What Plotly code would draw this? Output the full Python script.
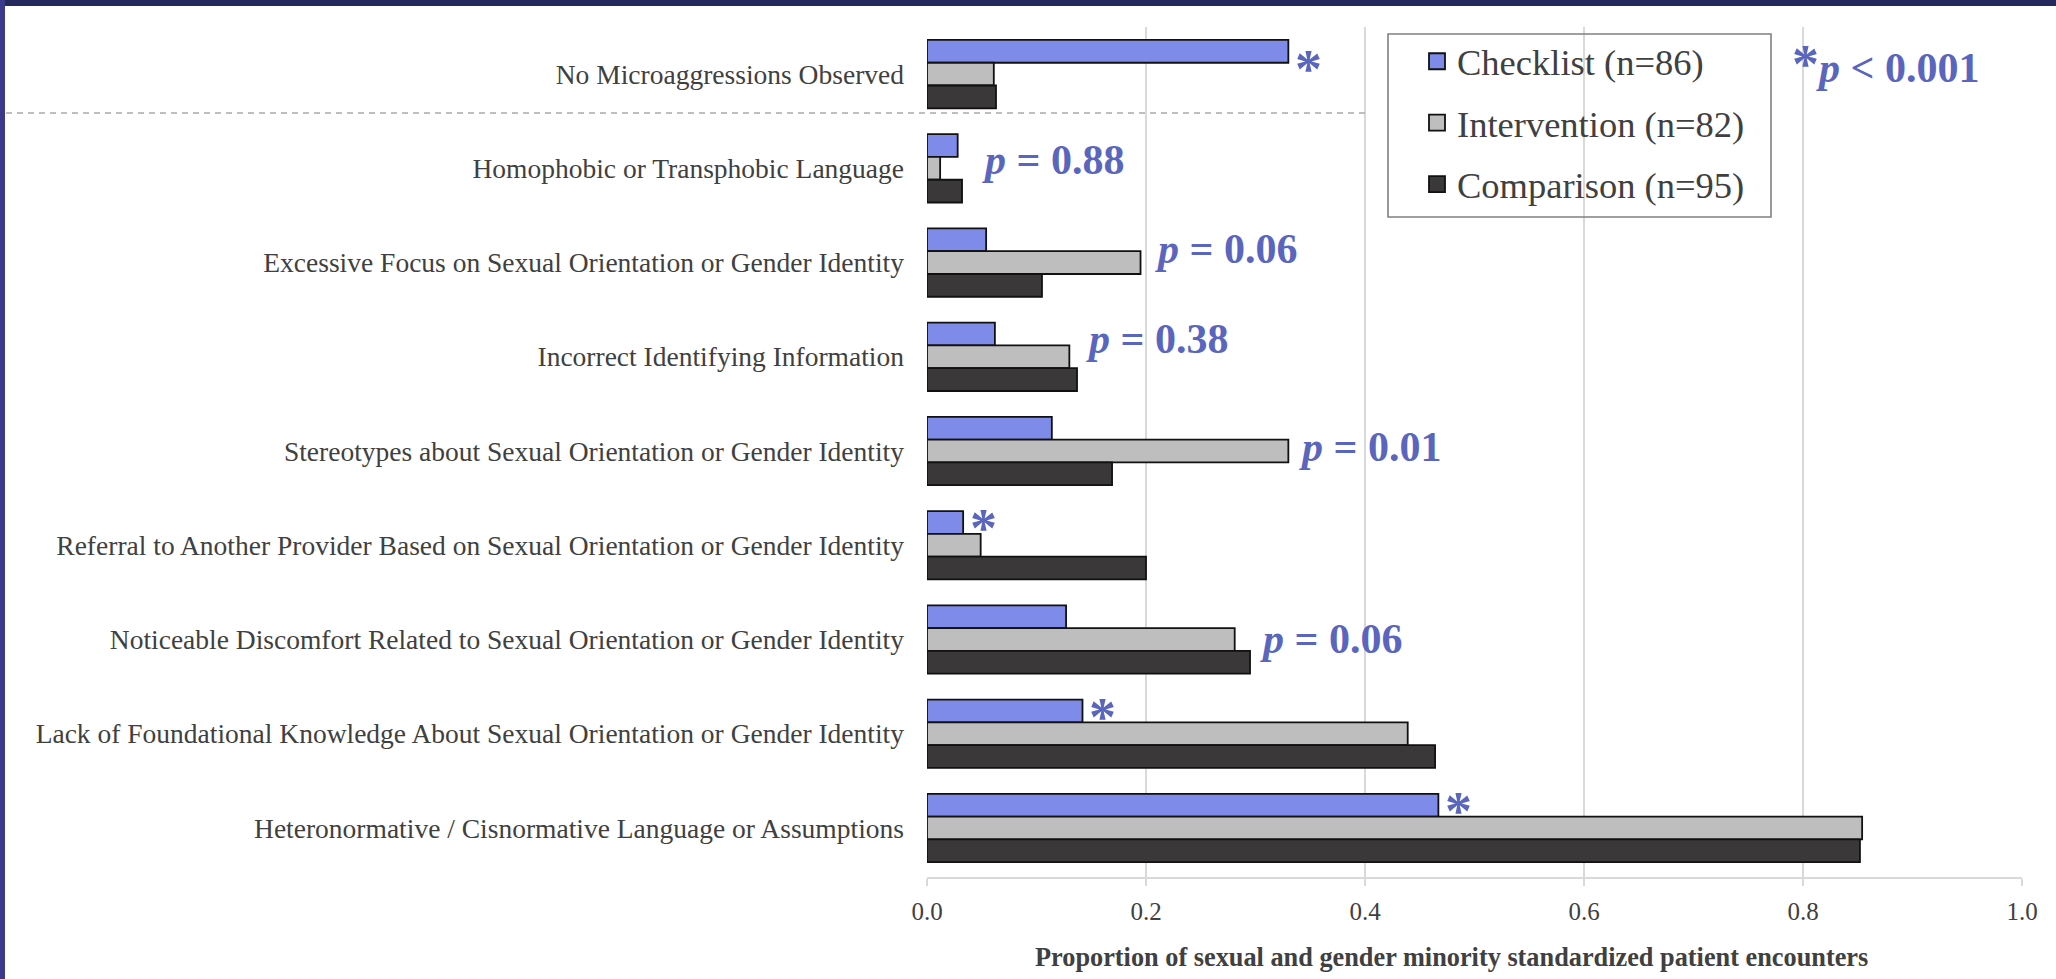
import plotly.graph_objects as go

# ---------------- data ----------------
categories = [
    "No Microaggressions Observed",
    "Homophobic or Transphobic Language",
    "Excessive Focus on Sexual Orientation or Gender Identity",
    "Incorrect Identifying Information",
    "Stereotypes about Sexual Orientation or Gender Identity",
    "Referral to Another Provider Based on Sexual Orientation or Gender Identity",
    "Noticeable Discomfort Related to Sexual Orientation or Gender Identity",
    "Lack of Foundational Knowledge About Sexual Orientation or Gender Identity",
    "Heteronormative / Cisnormative Language or Assumptions",
]
series_names = ["Checklist (n=86)", "Intervention (n=82)", "Comparison (n=95)"]
checklist = [0.330, 0.028, 0.054, 0.062, 0.114, 0.033, 0.127, 0.142, 0.467]
intervention = [0.061, 0.012, 0.195, 0.130, 0.330, 0.049, 0.281, 0.439, 0.854]
comparison = [0.063, 0.032, 0.105, 0.137, 0.169, 0.200, 0.295, 0.464, 0.852]
p_values = [None, "0.88", "0.06", "0.38", "0.01", None, "0.06", None, None]
significant = [True, False, False, False, False, True, False, True, True]
sig_note = "p < 0.001"
x_ticks = [0.0, 0.2, 0.4, 0.6, 0.8, 1.0]
x_title = "Proportion of sexual and gender minority standardized patient encounters"

# ---------------- style ----------------
W, H = 2056, 979
L, R, T, B = 927, 34, 27, 102
PW, PH = W - L - R, H - T - B
FONT = "Liberation Serif, Times New Roman, Times, serif"
TXT = "#404040"
ACC = "#5A66BE"
colors = ["#7F8BE8", "#BEBEBE", "#3A3839"]
GRID = "#D9D9D9"
STAR = "<span style='font-size:54px'>*</span>"

def px_x(px):
    return (px - L) / PW

def px_y(py):
    return (H - B - py) / PH

fig = go.Figure()
for name, vals, col in zip(series_names, [checklist, intervention, comparison], colors):
    fig.add_trace(go.Bar(
        y=categories, x=vals, orientation="h", name=name,
        marker=dict(color=col, line=dict(color="#111111", width=1.8)),
        showlegend=False, hoverinfo="x+y",
    ))
# legend entries
for name, col in zip(series_names, colors):
    fig.add_trace(go.Scatter(
        x=[None], y=[None], mode="markers", name=name, legendgroup=name,
        marker=dict(symbol="square", size=16, color=col, line=dict(color="#111111", width=1.8)),
    ))

annotations = []
# p-value labels
p_xshift = {1: 18, 2: 12, 3: 7, 4: 9, 6: 8}
p_yshift = {1: 8, 2: 14, 3: 18, 4: 4, 6: 1}
for i, pv in enumerate(p_values):
    if pv is None:
        continue
    mx = max(checklist[i], intervention[i], comparison[i])
    annotations.append(dict(
        x=mx, y=categories[i], xref="x", yref="y", xanchor="left", yanchor="middle",
        xshift=p_xshift[i], yshift=p_yshift[i], showarrow=False,
        text=f"<b><i>p</i> = {pv}</b>", font=dict(family=FONT, size=42, color=ACC),
    ))
# significance stars
for i, s in enumerate(significant):
    if not s:
        continue
    annotations.append(dict(
        x=checklist[i], y=categories[i], xref="x", yref="y", xanchor="left", yanchor="middle",
        xshift=5, yshift=5 if i == 0 else 17, showarrow=False,
        text=f"<b>{STAR}</b>", font=dict(family=FONT, size=54, color=ACC),
    ))
annotations.append(dict(
    x=px_x(1790), y=px_y(64), xref="paper", yref="paper", xanchor="left", yanchor="middle",
    showarrow=False, text=f"<b>{STAR}<i>p</i>{sig_note[1:]}</b>",
    font=dict(family=FONT, size=42, color=ACC),
))
annotations.append(dict(
    x=px_x(1451), y=px_y(958), xref="paper", yref="paper", xanchor="center", yanchor="middle",
    showarrow=False, text=f"<b>{x_title}</b>", font=dict(family=FONT, size=26.3, color=TXT),
))

shapes = [
    # separator dashed line between first and remaining categories
    dict(type="line", xref="paper", yref="paper", x0=px_x(6), x1=px_x(1365),
         y0=px_y(113), y1=px_y(113),
         line=dict(color="#AAAAAA", width=1.6, dash="6px,5px")),
    # legend box
    dict(type="rect", xref="paper", yref="paper", x0=px_x(1388), x1=px_x(1771),
         y0=px_y(34), y1=px_y(217), line=dict(color="#808080", width=1.6),
         fillcolor="rgba(0,0,0,0)"),
    # slide frame: top band and left band
    dict(type="rect", xref="paper", yref="paper", x0=px_x(0), x1=px_x(W), y0=px_y(0), y1=px_y(6),
         line=dict(width=0), fillcolor="#25285A", layer="above"),
    dict(type="rect", xref="paper", yref="paper", x0=px_x(0), x1=px_x(5), y0=px_y(0), y1=px_y(H),
         line=dict(width=0), fillcolor="#3B3A8A", layer="above"),
]

fig.update_layout(
    width=W, height=H,
    margin=dict(l=L, r=R, t=T, b=B),
    paper_bgcolor="white", plot_bgcolor="white",
    barmode="group", bargap=0.275, bargroupgap=0,
    font=dict(family=FONT, color=TXT),
    showlegend=True,
    legend=dict(
        x=px_x(1417), y=px_y(31), xanchor="left", yanchor="top",
        bgcolor="rgba(0,0,0,0)", borderwidth=0, tracegroupgap=11,
        font=dict(family=FONT, size=36.5, color=TXT), traceorder="grouped",
    ),
    xaxis=dict(
        range=[0, 1], tickvals=x_ticks, ticktext=[f"{v:.1f}" for v in x_ticks],
        showgrid=True, gridcolor=GRID, gridwidth=1.5, zeroline=False,
        showline=True, linecolor=GRID, linewidth=1.5,
        ticks="outside", ticklen=7, tickcolor=GRID, tickwidth=1.5,
        tickfont=dict(family=FONT, size=25, color=TXT), ticklabelstandoff=4,
    ),
    yaxis=dict(
        categoryorder="array", categoryarray=categories, autorange="reversed",
        showgrid=False, zeroline=False, showline=False, ticks="",
        tickfont=dict(family=FONT, size=27.5, color=TXT), ticklabelstandoff=22,
    ),
    annotations=annotations, shapes=shapes,
)

fig.write_html("out.html")
